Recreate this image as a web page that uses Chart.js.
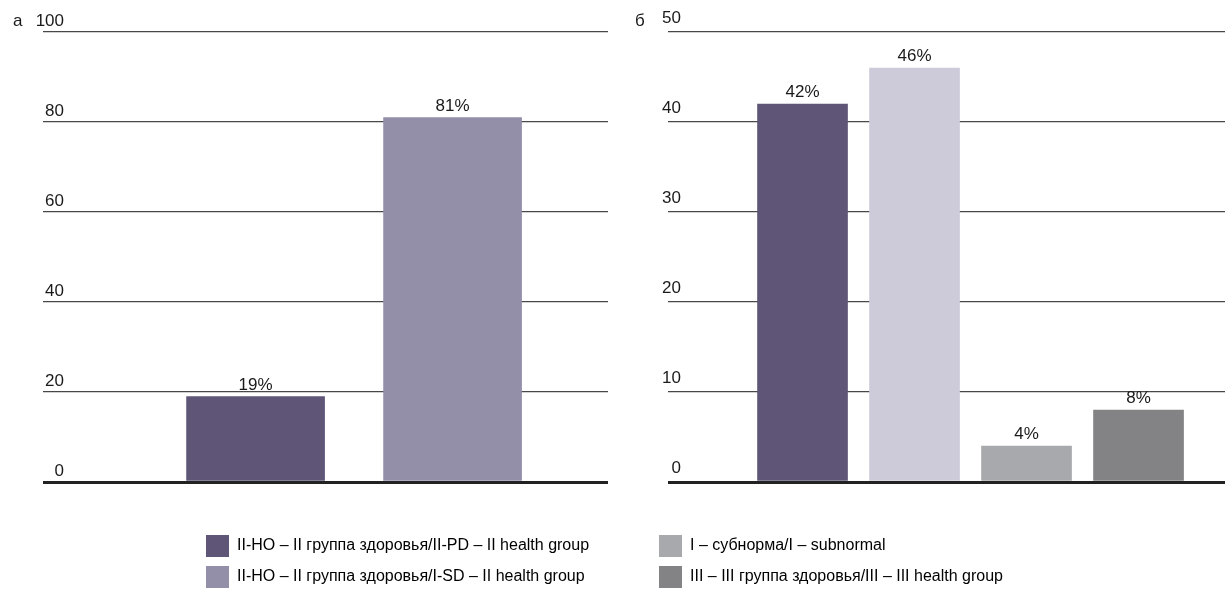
<!DOCTYPE html>
<html lang="ru">
<head>
<meta charset="utf-8">
<title>Распределение по группам здоровья</title>
<script src="https://cdn.jsdelivr.net/npm/chart.js@4.4.1/dist/chart.umd.min.js"></script>
<style>
  html, body { margin: 0; padding: 0; background: #ffffff; }
  #wrap { position: relative; width: 1225px; height: 590px; overflow: hidden; background: #ffffff; }
  canvas { position: absolute; top: 0; }
  #chartA { left: 0; }
  #chartB { left: 622px; }
</style>
</head>
<body>
<div id="wrap">
  <canvas id="chartA" width="622" height="590"></canvas>
  <canvas id="chartB" width="603" height="590"></canvas>
</div>
<script>
// ---- data ----
const panelACategories = ['II-PD', 'I-SD'];
const panelAValues = [19, 81];
const panelATicks = [0, 20, 40, 60, 80, 100];

const panelBCategories = ['II-PD', 'I-SD', 'I', 'III'];
const panelBValues = [42, 46, 4, 8];
const panelBTicks = [0, 10, 20, 30, 40, 50];

const legendTextsA = [
  'II-НО – II группа здоровья/II-PD – II health group',
  'II-НО – II группа здоровья/I-SD – II health group'
];
const legendTextsB = [
  'I – субнорма/I – subnormal',
  'III – III группа здоровья/III – III health group'
];

// ---- styles ----
const colorsA = ['#5f5677', '#938fa8'];
const colorsB = ['#5f5677', '#cdcbda', '#a8a9ad', '#838386'];
const legendColorsA = ['#5f5677', '#938fa8'];
const legendColorsB = ['#a8a9ad', '#838386'];

const FONT_FAMILY = "'Liberation Sans', Arial, sans-serif";
const TICK_SIZE = 17;
const VALUE_SIZE = 17;
const LEGEND_SIZE = 16;
const TEXT_COLOR = '#1a1a1a';
const GRID_COLOR = '#484848';
const BASE_COLOR = '#222222';

const measureCtx = document.createElement('canvas').getContext('2d');
function textWidth(str, size) {
  measureCtx.font = size + 'px ' + FONT_FAMILY;
  return measureCtx.measureText(str).width;
}

// value labels above each bar ("19%")
const valueLabels = {
  id: 'valueLabels',
  afterDatasetsDraw(chart, args, opts) {
    const { ctx } = chart;
    chart.data.datasets.forEach((ds, di) => {
      chart.getDatasetMeta(di).data.forEach((bar, i) => {
        ctx.save();
        ctx.font = opts.size + 'px ' + FONT_FAMILY;
        ctx.fillStyle = TEXT_COLOR;
        ctx.textAlign = 'center';
        ctx.textBaseline = 'alphabetic';
        ctx.fillText(ds.data[i].y + '%', bar.x, bar.y - opts.gap);
        ctx.restore();
      });
    });
  }
};

// puts the legend block below the plot
const legendPlacement = {
  id: 'legendPlacement',
  afterLayout(chart, args, opts) {
    const lg = chart.legend;
    if (!lg) return;
    const w = lg.width;
    lg.left = opts.x;
    lg.right = opts.x + w;
    lg.top = opts.y;
    lg.bottom = opts.y + 400;
    lg.height = 400;
  }
};

function makeChart(id, cfg) {
  const points = cfg.values.map((v, i) => ({ x: i + 1, y: v }));
  const padLeft = 13;
  const widest = Math.max(...cfg.ticks.map(t => textWidth(String(t), TICK_SIZE)));
  const tickPad = cfg.labelRight - (padLeft + cfg.axisWidth) - widest;
  return new Chart(document.getElementById(id), {
    type: 'bar',
    data: {
      labels: cfg.categories,
      datasets: [{
        data: points,
        backgroundColor: cfg.colors,
        borderWidth: 0,
        barThickness: cfg.barWidth
      }]
    },
    plugins: [valueLabels, legendPlacement],
    options: {
      responsive: false,
      animation: false,
      events: [],
      layout: { padding: { left: padLeft, right: cfg.padRight, top: 0, bottom: 108 } },
      scales: {
        x: {
          type: 'linear',
          display: false,
          offset: false,
          grace: 0,
          min: cfg.xMin,
          max: cfg.xMax
        },
        y: {
          position: 'left',
          min: 0,
          max: cfg.ticks[cfg.ticks.length - 1],
          afterBuildTicks: (scale) => { scale.ticks = cfg.ticks.map(v => ({ value: v })); },
          afterFit: (scale) => { scale.width = cfg.axisWidth; },
          border: { display: false },
          grid: {
            drawTicks: false,
            color: (c) => (c.tick && c.tick.value === 0 ? BASE_COLOR : GRID_COLOR),
            lineWidth: (c) => (c.tick && c.tick.value === 0 ? 3 : 1.2)
          },
          ticks: {
            color: TEXT_COLOR,
            font: { family: FONT_FAMILY, size: TICK_SIZE },
            mirror: true,
            crossAlign: 'far',
            padding: tickPad,
            labelOffset: cfg.labelOffset,
            autoSkip: false
          }
        }
      },
      plugins: {
        tooltip: { enabled: false },
        title: {
          display: true,
          text: cfg.panel,
          align: 'start',
          color: TEXT_COLOR,
          font: { family: FONT_FAMILY, size: TICK_SIZE, weight: 'normal' },
          padding: { top: 11, bottom: 0.6 }
        },
        legend: {
          display: true,
          position: 'chartArea',
          align: 'start',
          labels: {
            boxWidth: 23,
            boxHeight: 22,
            padding: 9,
            color: TEXT_COLOR,
            font: { family: FONT_FAMILY, size: LEGEND_SIZE },
            generateLabels: () => cfg.legendTexts.map((t, i) => ({
              text: t,
              fillStyle: cfg.legendColors[i],
              strokeStyle: cfg.legendColors[i],
              lineWidth: 0,
              hidden: false,
              index: i
            }))
          }
        },
        valueLabels: { size: VALUE_SIZE, gap: 7 },
        legendPlacement: { x: cfg.legendX, y: 526 }
      }
    }
  });
}

makeChart('chartA', {
  panel: 'а',
  categories: panelACategories,
  values: panelAValues,
  ticks: panelATicks,
  colors: colorsA,
  legendTexts: legendTextsA,
  legendColors: legendColorsA,
  barWidth: 138,
  xMin: -0.079,
  xMax: 2.789,
  padRight: 14,
  axisWidth: 30,
  labelRight: 64,
  labelOffset: -11,
  legendX: 197
});

makeChart('chartB', {
  panel: 'б',
  categories: panelBCategories,
  values: panelBValues,
  ticks: panelBTicks,
  colors: colorsB,
  legendTexts: legendTextsB,
  legendColors: legendColorsB,
  barWidth: 90,
  xMin: -0.201,
  xMax: 4.772,
  padRight: 0,
  axisWidth: 33,
  labelRight: 59,
  labelOffset: -13.5,
  legendX: 28
});
</script>
</body>
</html>
